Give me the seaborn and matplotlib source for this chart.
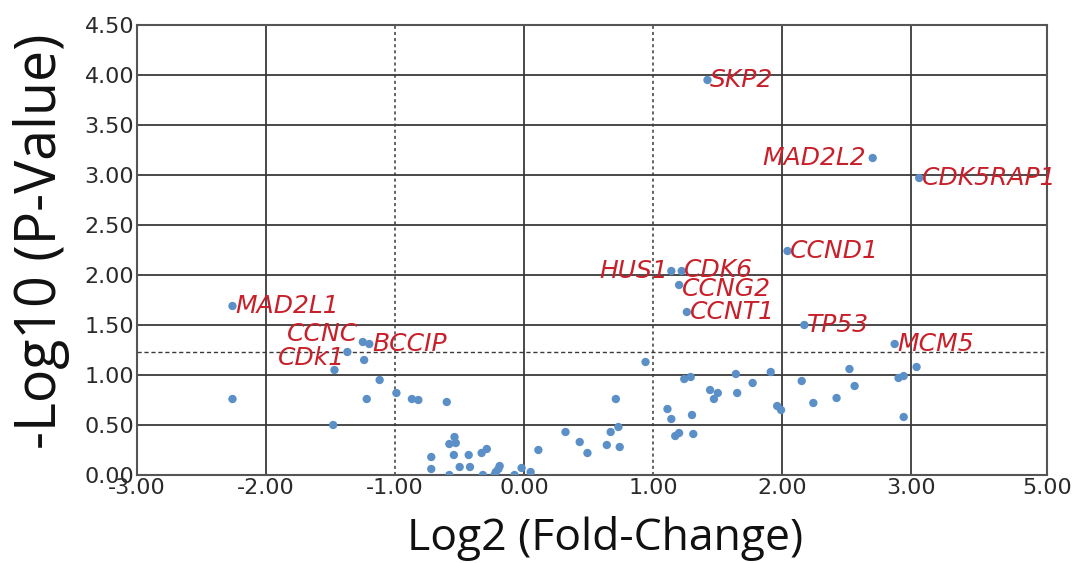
import pandas as pd
import matplotlib
matplotlib.use("Agg")
import matplotlib.pyplot as plt
import seaborn as sns

# log2 fold change / -log10 p-value
log2_fc = [
    1.42, 2.70, 3.06, 2.04, 1.14, 1.22, 1.20, 1.26, 2.17, 2.87,
    -2.26, -1.25, -1.20, -1.37,
    -1.24, -1.47, -1.12, -2.26, -1.22, -0.99, -0.87, -0.82, -1.48,
    -0.60, -0.54, -0.58, -0.53, -0.545, -0.72, -0.72, -0.50, -0.43, -0.42,
    -0.33, -0.29, -0.58, -0.32, -0.23, -0.22, -0.19, -0.20, -0.075, -0.02,
    0.05, 0.11,
    0.32, 0.43, 0.49, 0.64, 0.67, 0.73, 0.74, 0.71, 0.94, 1.11, 1.14,
    1.17, 1.20, 1.31, 1.30, 1.24, 1.29, 1.44, 1.50, 1.47, 1.64, 1.65,
    1.77, 1.91, 1.96, 1.99, 2.15, 2.24, 2.42, 2.52, 2.56, 2.90, 2.94,
    3.04, 2.94,
]
neg_log10_p = [
    3.95, 3.17, 2.97, 2.24, 2.04, 2.04, 1.90, 1.63, 1.50, 1.31,
    1.69, 1.33, 1.31, 1.23,
    1.15, 1.05, 0.95, 0.76, 0.76, 0.82, 0.76, 0.75, 0.50,
    0.73, 0.38, 0.31, 0.32, 0.20, 0.18, 0.06, 0.08, 0.20, 0.08,
    0.22, 0.26, 0.00, 0.00, 0.00, 0.03, 0.09, 0.06, 0.00, 0.07,
    0.03, 0.25,
    0.43, 0.33, 0.22, 0.30, 0.43, 0.48, 0.28, 0.76, 1.13, 0.66, 0.56,
    0.39, 0.42, 0.41, 0.60, 0.96, 0.98, 0.85, 0.82, 0.76, 1.01, 0.82,
    0.92, 1.03, 0.69, 0.65, 0.94, 0.72, 0.77, 1.06, 0.89, 0.97, 0.99,
    1.08, 0.58,
]

# labelled genes: name, x, y, side of the dot the text sits on
gene_names = ["SKP2", "MAD2L2", "CDK5RAP1", "CCND1", "HUS1", "CDK6",
              "CCNG2", "CCNT1", "TP53", "MCM5", "MAD2L1", "CCNC",
              "BCCIP", "CDk1"]
gene_x = [1.42, 2.70, 3.06, 2.04, 1.14, 1.22, 1.20, 1.26, 2.17, 2.87,
          -2.26, -1.25, -1.20, -1.37]
gene_y = [3.95, 3.17, 2.97, 2.24, 2.04, 2.04, 1.90, 1.63, 1.50, 1.31,
          1.69, 1.33, 1.31, 1.23]
gene_side = ["right", "left", "right", "right", "left", "right",
             "right", "right", "right", "right", "right", "left",
             "right", "left"]

x_ticks = [-3, -2, -1, 0, 1, 2, 3, 4.05]
x_tick_labels = ["-3.00", "-2.00", "-1.00", "0.00", "1.00", "2.00", "3.00", "5.00"]
y_ticks = [0, 0.5, 1, 1.5, 2, 2.5, 3, 3.5, 4, 4.5]

df = pd.DataFrame({"Log2FC": log2_fc, "NegLog10P": neg_log10_p})

sns.set_style("white")
plt.rcParams['font.family'] = ['DejaVu Sans']

fig = plt.figure(figsize=(10.76, 5.63), dpi=100)
ax = fig.add_axes([0.1273, 0.1563, 0.8457, 0.7993])

# grid: solid lines, dotted thresholds at +-1 and p = 0.06
for gx in [-2, 0, 2, 3]:
    ax.axvline(gx, color='#3a3a3a', lw=1.3, zorder=1)
for gx in [-1, 1]:
    ax.axvline(gx, color='#3a3a3a', lw=1.1, ls=(0, (2, 2)), zorder=1)
for gy in y_ticks[1:]:
    ax.axhline(gy, color='#3a3a3a', lw=1.3, zorder=1)
ax.axhline(1.23, color='#3a3a3a', lw=1.0, ls=(0, (3, 2)), zorder=1)

sns.scatterplot(data=df, x="Log2FC", y="NegLog10P", ax=ax, color='#5b8fc7',
                s=36, edgecolor='none', zorder=3, legend=False)

label_offsets = {"MAD2L2": (-5, 0), "CCNC": (-3, 6), "CDk1": (-2, -4),
                 "CDK6": (2, 1), "CCNG2": (2, -3)}
for name, gx, gy, side in zip(gene_names, gene_x, gene_y, gene_side):
    if side == "right":
        off, ha = (2, 0), 'left'
    else:
        off, ha = (-2, 0), 'right'
    off = label_offsets.get(name, off)
    ax.annotate(name, (gx, gy), xytext=off, textcoords='offset points',
                ha=ha, va='center', fontsize=18, style='italic',
                color='#c8202a', zorder=4)

ax.set_xlim(-3, 4.05)
ax.set_ylim(0, 4.5)
ax.set_xticks(x_ticks)
ax.set_xticklabels(x_tick_labels)
ax.set_yticks(y_ticks)
ax.set_yticklabels([f"{v:.2f}" for v in y_ticks])
ax.tick_params(axis='both', length=0, labelsize=16, colors='#2a2a2a', pad=2)

for sp in ax.spines.values():
    sp.set_color('#555555')
    sp.set_linewidth(1.5)

ax.set_xlabel("Log2 (Fold-Change)", fontsize=32, family=['Open Sans', 'DejaVu Sans'],
              color='#111111', va='center')
ax.set_ylabel("-Log10 (P-Value)", fontsize=40, family=['Open Sans', 'DejaVu Sans'],
              color='#111111', va='center')
ax.xaxis.set_label_coords(0.514, -0.14)
ax.yaxis.set_label_coords(-0.105, 0.52)

fig.savefig("out.png", dpi=100)
